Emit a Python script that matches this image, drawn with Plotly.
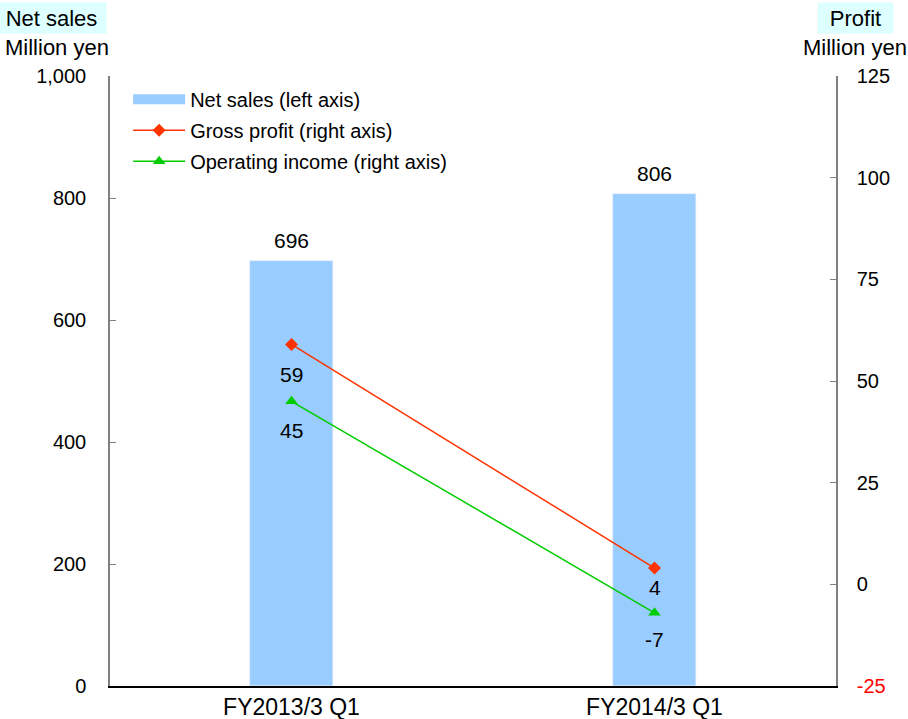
import plotly.graph_objects as go

categories = ["FY2013/3 Q1", "FY2014/3 Q1"]
net_sales = [696, 806]
gross_profit = [59, 4]
operating_income = [45, -7]

left_ticks = [0, 200, 400, 600, 800, 1000]
left_ticktext = ["0", "200", "400", "600", "800", "1,000"]
right_ticks = [-25, 0, 25, 50, 75, 100, 125]
right_ticktext = ['<span style="color:#FF0000">-25</span>', "0", "25", "50", "75", "100", "125"]

# vertical pixel offsets of the point labels below the markers (style only)
gp_label_shift = [-30, -19]
oi_label_shift = [-29, -27]

FONT = "Liberation Sans, Arial, sans-serif"
BAR = "#99CCFF"
GP = "#FF3300"
OI = "#00CC00"
FS = 20
HFS = 22

fig = go.Figure()
fig.add_trace(go.Bar(x=categories, y=net_sales, marker_color=BAR, width=0.226,
                     showlegend=False, yaxis="y", hoverinfo="y"))
# legend swatch for bars
fig.add_trace(go.Scatter(x=[None], y=[None], mode="lines", line=dict(color=BAR, width=10),
                         name="Net sales (left axis)", legendgroup="a"))
fig.add_trace(go.Scatter(x=categories, y=gross_profit, mode="lines+markers", yaxis="y2",
                         line=dict(color=GP, width=1.5),
                         marker=dict(symbol="diamond", size=10, color=GP),
                         name="Gross profit (right axis)", legendgroup="b"))
fig.add_trace(go.Scatter(x=categories, y=operating_income, mode="lines+markers", yaxis="y2",
                         line=dict(color=OI, width=1.5),
                         marker=dict(symbol="triangle-up", size=11, color=OI),
                         name="Operating income (right axis)", legendgroup="c"))

annotations = []
for c, v in zip(categories, net_sales):
    annotations.append(dict(x=c, y=v, xref="x", yref="y", text=str(v), showarrow=False,
                            yshift=21, font=dict(size=FS + 1, color="black", family=FONT)))
for series, shifts in ((gross_profit, gp_label_shift), (operating_income, oi_label_shift)):
    for c, v, s in zip(categories, series, shifts):
        annotations.append(dict(x=c, y=v, xref="x", yref="y2", text=str(v), showarrow=False,
                                yshift=s, font=dict(size=FS + 1, color="black", family=FONT)))

hdr = dict(xref="paper", yref="paper", showarrow=False, xanchor="center", yanchor="middle",
           font=dict(size=HFS, color="black", family=FONT))
annotations += [
    dict(hdr, x=-0.0799, y=1.0951, text="Net sales", bgcolor="#DDFFFF",
         width=107, height=28, borderpad=1),
    dict(hdr, x=-0.0736, y=1.0475, text="Million yen"),
    dict(hdr, x=1.0262, y=1.0951, text="Profit", bgcolor="#DDFFFF",
         width=73, height=28, borderpad=1),
    dict(hdr, x=1.0262, y=1.0475, text="Million yen"),
]

fig.update_layout(
    width=908, height=719,
    margin=dict(l=110, r=72, t=76, b=33, autoexpand=False),
    paper_bgcolor="white", plot_bgcolor="white",
    font=dict(family=FONT, size=FS, color="black"),
    bargap=0,
    xaxis=dict(type="category", range=[-0.5, 1.5], showgrid=False, showline=True,
               linecolor="#000000", linewidth=1.5, ticks="", tickfont=dict(size=23),
               ticklabelstandoff=0, zeroline=False),
    yaxis=dict(range=[0, 1000], tickvals=left_ticks, ticktext=left_ticktext,
               showgrid=False, zeroline=False, showline=True, linecolor="#808080", linewidth=1.5,
               ticks="inside", ticklen=6, tickcolor="#808080", ticklabelstandoff=18,
               tickfont=dict(size=FS)),
    yaxis2=dict(range=[-25, 125], tickvals=right_ticks, ticktext=right_ticktext,
                overlaying="y", side="right", showgrid=False, zeroline=False,
                showline=True, linecolor="#808080", linewidth=1.5,
                ticks="inside", ticklen=6, tickcolor="#808080", ticklabelstandoff=15,
                tickfont=dict(size=FS)),
    legend=dict(x=0.025, y=0.994, xanchor="left", yanchor="top", bgcolor="rgba(0,0,0,0)",
                font=dict(size=FS, family=FONT), itemwidth=52, tracegroupgap=2,
                traceorder="grouped"),
    annotations=annotations,
)

fig.write_html("out.html")
